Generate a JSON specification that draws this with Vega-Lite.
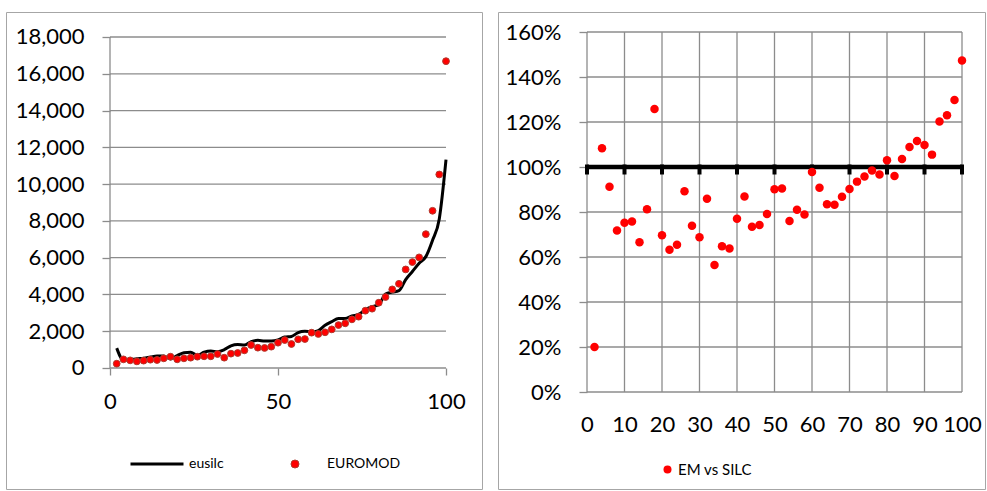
{
  "$schema": "https://vega.github.io/schema/vega-lite/v6.json",
  "background": "white",
  "padding": {"left": 5, "top": 11, "right": 0, "bottom": 0},
  "spacing": 14,
  "resolve": {"scale": {"fill": "independent", "stroke": "independent"}, "legend": {"fill": "independent", "stroke": "independent"}},
  "config": {
    "font": "Lato",
    "view": {"stroke": "#a6a6a6", "strokeWidth": 1},
    "axis": {
      "labelFont": "Lato", "labelFontSize": 22, "labelColor": "#000000",
      "tickColor": "#8c8c8c", "tickWidth": 1.3,
      "title": null, "labelOverlap": false, "labelFlush": false
    },
    "legend": {"labelFont": "Lato", "labelColor": "#000000", "title": null, "padding": 0}
  },
  "datasets": {
    "pct": [
      {"p": 2, "eusilc": 1080, "euromod": 235, "ratio": 0.20},
      {"p": 4, "eusilc": 434, "euromod": 470, "ratio": 1.083},
      {"p": 6, "eusilc": 455, "euromod": 415, "ratio": 0.912},
      {"p": 8, "eusilc": 501, "euromod": 360, "ratio": 0.718},
      {"p": 10, "eusilc": 532, "euromod": 400, "ratio": 0.752},
      {"p": 12, "eusilc": 594, "euromod": 450, "ratio": 0.758},
      {"p": 14, "eusilc": 653, "euromod": 435, "ratio": 0.666},
      {"p": 16, "eusilc": 647, "euromod": 525, "ratio": 0.812},
      {"p": 18, "eusilc": 489, "euromod": 615, "ratio": 1.258},
      {"p": 20, "eusilc": 674, "euromod": 470, "ratio": 0.697},
      {"p": 22, "eusilc": 831, "euromod": 525, "ratio": 0.632},
      {"p": 24, "eusilc": 856, "euromod": 560, "ratio": 0.654},
      {"p": 26, "eusilc": 689, "euromod": 615, "ratio": 0.892},
      {"p": 28, "eusilc": 859, "euromod": 635, "ratio": 0.739},
      {"p": 30, "eusilc": 923, "euromod": 635, "ratio": 0.688},
      {"p": 32, "eusilc": 885, "euromod": 760, "ratio": 0.859},
      {"p": 34, "eusilc": 993, "euromod": 560, "ratio": 0.564},
      {"p": 36, "eusilc": 1204, "euromod": 780, "ratio": 0.648},
      {"p": 38, "eusilc": 1277, "euromod": 815, "ratio": 0.638},
      {"p": 40, "eusilc": 1247, "euromod": 960, "ratio": 0.770},
      {"p": 42, "eusilc": 1438, "euromod": 1250, "ratio": 0.869},
      {"p": 44, "eusilc": 1505, "euromod": 1105, "ratio": 0.734},
      {"p": 46, "eusilc": 1469, "euromod": 1090, "ratio": 0.742},
      {"p": 48, "eusilc": 1466, "euromod": 1160, "ratio": 0.791},
      {"p": 50, "eusilc": 1526, "euromod": 1375, "ratio": 0.901},
      {"p": 52, "eusilc": 1681, "euromod": 1520, "ratio": 0.904},
      {"p": 54, "eusilc": 1717, "euromod": 1305, "ratio": 0.760},
      {"p": 56, "eusilc": 1926, "euromod": 1560, "ratio": 0.810},
      {"p": 58, "eusilc": 1996, "euromod": 1575, "ratio": 0.789},
      {"p": 60, "eusilc": 1963, "euromod": 1920, "ratio": 0.978},
      {"p": 62, "eusilc": 2037, "euromod": 1850, "ratio": 0.908},
      {"p": 64, "eusilc": 2326, "euromod": 1940, "ratio": 0.834},
      {"p": 66, "eusilc": 2524, "euromod": 2100, "ratio": 0.832},
      {"p": 68, "eusilc": 2690, "euromod": 2335, "ratio": 0.868},
      {"p": 70, "eusilc": 2694, "euromod": 2430, "ratio": 0.902},
      {"p": 72, "eusilc": 2829, "euromod": 2645, "ratio": 0.935},
      {"p": 74, "eusilc": 2912, "euromod": 2790, "ratio": 0.958},
      {"p": 76, "eusilc": 3166, "euromod": 3115, "ratio": 0.984},
      {"p": 78, "eusilc": 3335, "euromod": 3225, "ratio": 0.967},
      {"p": 80, "eusilc": 3447, "euromod": 3550, "ratio": 1.030},
      {"p": 82, "eusilc": 4021, "euromod": 3860, "ratio": 0.960},
      {"p": 84, "eusilc": 4126, "euromod": 4275, "ratio": 1.036},
      {"p": 86, "eusilc": 4206, "euromod": 4580, "ratio": 1.089},
      {"p": 88, "eusilc": 4803, "euromod": 5360, "ratio": 1.116},
      {"p": 90, "eusilc": 5246, "euromod": 5760, "ratio": 1.098},
      {"p": 92, "eusilc": 5701, "euromod": 6015, "ratio": 1.055},
      {"p": 94, "eusilc": 6057, "euromod": 7280, "ratio": 1.202},
      {"p": 96, "eusilc": 6951, "euromod": 8550, "ratio": 1.230},
      {"p": 98, "eusilc": 8109, "euromod": 10525, "ratio": 1.298},
      {"p": 100, "eusilc": 11327, "euromod": 16685, "ratio": 1.473}
    ],
    "gridLeft": [
      {"v": 0}, {"v": 2000}, {"v": 4000}, {"v": 6000}, {"v": 8000},
      {"v": 10000}, {"v": 12000}, {"v": 14000}, {"v": 16000}, {"v": 18000}
    ],
    "gridRightY": [
      {"level": 0}, {"level": 0.2}, {"level": 0.4}, {"level": 0.6}, {"level": 0.8},
      {"level": 1.0}, {"level": 1.2}, {"level": 1.4}, {"level": 1.6}
    ],
    "gridRightX": [
      {"p": 0}, {"p": 10}, {"p": 20}, {"p": 30}, {"p": 40}, {"p": 50},
      {"p": 60}, {"p": 70}, {"p": 80}, {"p": 90}, {"p": 100}
    ],
    "reftick": [
      {"p": 0, "level": 1}, {"p": 10, "level": 1}, {"p": 20, "level": 1}, {"p": 30, "level": 1},
      {"p": 40, "level": 1}, {"p": 50, "level": 1}, {"p": 60, "level": 1}, {"p": 70, "level": 1},
      {"p": 80, "level": 1}, {"p": 90, "level": 1}, {"p": 100, "level": 1}
    ]
  },
  "hconcat": [
    {
      "width": 476,
      "height": 477,
      "layer": [
        {
          "data": {"name": "gridLeft"},
          "mark": {"type": "rule", "color": "#8c8c8c", "strokeWidth": 1.3},
          "encoding": {
            "x": {
              "datum": 0, "type": "quantitative",
              "scale": {"domain": [-30.952, 110.714], "nice": false, "zero": false},
              "axis": {"values": [0, 50, 100], "grid": false, "domain": false, "tickSize": 7, "labelPadding": 16, "offset": -121}
            },
            "x2": {"datum": 100},
            "y": {
              "field": "v", "type": "quantitative",
              "scale": {"domain": [-6580.1, 19359.5], "nice": false, "zero": false},
              "axis": {
                "values": [0, 2000, 4000, 6000, 8000, 10000, 12000, 14000, 16000, 18000],
                "format": ",.0f", "grid": false, "domain": false, "tickSize": 8, "labelPadding": 18, "offset": -104
              }
            }
          }
        },
        {
          "data": {"name": "gridLeft"},
          "transform": [{"filter": "datum.v == 0"}],
          "mark": {"type": "rule", "color": "#8c8c8c", "strokeWidth": 1.3},
          "encoding": {
            "x": {
              "datum": 0, "type": "quantitative",
              "axis": {"values": [0, 50, 100], "grid": false, "domain": false, "tickSize": 7, "labelPadding": 16, "offset": -121}
            },
            "y": {
              "field": "v", "type": "quantitative",
              "axis": {
                "values": [0, 2000, 4000, 6000, 8000, 10000, 12000, 14000, 16000, 18000],
                "format": ",.0f", "grid": false, "domain": false, "tickSize": 8, "labelPadding": 18, "offset": -104
              }
            },
            "y2": {"datum": 18000}
          }
        },
        {
          "data": {"name": "pct"},
          "mark": {"type": "line", "interpolate": "monotone", "strokeWidth": 3},
          "encoding": {
            "x": {
              "field": "p", "type": "quantitative",
              "axis": {"values": [0, 50, 100], "grid": false, "domain": false, "tickSize": 7, "labelPadding": 16, "offset": -121}
            },
            "y": {
              "field": "eusilc", "type": "quantitative",
              "axis": {
                "values": [0, 2000, 4000, 6000, 8000, 10000, 12000, 14000, 16000, 18000],
                "format": ",.0f", "grid": false, "domain": false, "tickSize": 8, "labelPadding": 18, "offset": -104
              }
            },
            "stroke": {
              "datum": "eusilc", "type": "nominal",
              "scale": {"range": ["#000000"]},
              "legend": {
                "orient": "none", "legendX": 123, "legendY": 424,
                "symbolType": "stroke", "symbolSize": 2809, "symbolStrokeWidth": 3,
                "symbolStrokeColor": "#000000",
                "labelFontSize": 14, "labelOffset": 4
              }
            }
          }
        },
        {
          "data": {"name": "pct"},
          "mark": {"type": "circle", "size": 46, "stroke": "#b03a2e", "strokeWidth": 1, "opacity": 1},
          "encoding": {
            "x": {
              "field": "p", "type": "quantitative",
              "axis": {"values": [0, 50, 100], "grid": false, "domain": false, "tickSize": 7, "labelPadding": 16, "offset": -121}
            },
            "y": {
              "field": "euromod", "type": "quantitative",
              "axis": {
                "values": [0, 2000, 4000, 6000, 8000, 10000, 12000, 14000, 16000, 18000],
                "format": ",.0f", "grid": false, "domain": false, "tickSize": 8, "labelPadding": 18, "offset": -104
              }
            },
            "fill": {
              "datum": "EUROMOD", "type": "nominal",
              "scale": {"range": ["#ff0000"]},
              "legend": {
                "orient": "none", "legendX": 282, "legendY": 445,
                "symbolType": "circle", "symbolSize": 64, "symbolStrokeColor": "#b03a2e", "symbolStrokeWidth": 1,
                "labelFontSize": 14, "labelOffset": 25
              }
            }
          }
        }
      ]
    },
    {
      "width": 487,
      "height": 477,
      "layer": [
        {
          "data": {"name": "gridRightY"},
          "mark": {"type": "rule", "color": "#8c8c8c", "strokeWidth": 1.3},
          "encoding": {
            "x": {
              "datum": 0, "type": "quantitative",
              "scale": {"domain": [-23.733, 106.133], "nice": false, "zero": false},
              "axis": {"values": [0, 10, 20, 30, 40, 50, 60, 70, 80, 90, 100], "grid": false, "domain": false, "tickSize": 0, "labelPadding": 22, "offset": -97}
            },
            "x2": {"datum": 100},
            "y": {
              "field": "level", "type": "quantitative",
              "scale": {"domain": [-0.43111, 1.68889], "nice": false, "zero": false},
              "axis": {
                "values": [0, 0.2, 0.4, 0.6, 0.8, 1.0, 1.2, 1.4, 1.6],
                "format": ".0%", "grid": false, "domain": false, "tickSize": 8, "labelPadding": 18, "offset": -89
              }
            }
          }
        },
        {
          "data": {"name": "gridRightX"},
          "mark": {"type": "rule", "color": "#8c8c8c", "strokeWidth": 1.3},
          "encoding": {
            "x": {
              "field": "p", "type": "quantitative",
              "axis": {"values": [0, 10, 20, 30, 40, 50, 60, 70, 80, 90, 100], "grid": false, "domain": false, "tickSize": 0, "labelPadding": 22, "offset": -97}
            },
            "y": {
              "datum": 0, "type": "quantitative",
              "axis": {
                "values": [0, 0.2, 0.4, 0.6, 0.8, 1.0, 1.2, 1.4, 1.6],
                "format": ".0%", "grid": false, "domain": false, "tickSize": 8, "labelPadding": 18, "offset": -89
              }
            },
            "y2": {"datum": 1.6}
          }
        },
        {
          "data": {"name": "gridRightY"},
          "transform": [{"filter": "datum.level == 1"}],
          "mark": {"type": "rule", "color": "#000000", "strokeWidth": 4.5},
          "encoding": {
            "x": {
              "datum": 0, "type": "quantitative",
              "axis": {"values": [0, 10, 20, 30, 40, 50, 60, 70, 80, 90, 100], "grid": false, "domain": false, "tickSize": 0, "labelPadding": 22, "offset": -97}
            },
            "x2": {"datum": 100},
            "y": {
              "field": "level", "type": "quantitative",
              "axis": {
                "values": [0, 0.2, 0.4, 0.6, 0.8, 1.0, 1.2, 1.4, 1.6],
                "format": ".0%", "grid": false, "domain": false, "tickSize": 8, "labelPadding": 18, "offset": -89
              }
            }
          }
        },
        {
          "data": {"name": "reftick"},
          "mark": {"type": "tick", "orient": "vertical", "color": "#000000", "size": 10, "thickness": 4, "yOffset": 2.5, "opacity": 1},
          "encoding": {
            "x": {
              "field": "p", "type": "quantitative",
              "axis": {"values": [0, 10, 20, 30, 40, 50, 60, 70, 80, 90, 100], "grid": false, "domain": false, "tickSize": 0, "labelPadding": 22, "offset": -97}
            },
            "y": {
              "field": "level", "type": "quantitative",
              "axis": {
                "values": [0, 0.2, 0.4, 0.6, 0.8, 1.0, 1.2, 1.4, 1.6],
                "format": ".0%", "grid": false, "domain": false, "tickSize": 8, "labelPadding": 18, "offset": -89
              }
            }
          }
        },
        {
          "data": {"name": "pct"},
          "mark": {"type": "circle", "size": 72, "opacity": 1},
          "encoding": {
            "x": {
              "field": "p", "type": "quantitative",
              "axis": {"values": [0, 10, 20, 30, 40, 50, 60, 70, 80, 90, 100], "grid": false, "domain": false, "tickSize": 0, "labelPadding": 22, "offset": -97}
            },
            "y": {
              "field": "ratio", "type": "quantitative",
              "axis": {
                "values": [0, 0.2, 0.4, 0.6, 0.8, 1.0, 1.2, 1.4, 1.6],
                "format": ".0%", "grid": false, "domain": false, "tickSize": 8, "labelPadding": 18, "offset": -89
              }
            },
            "fill": {
              "datum": "EM vs SILC", "type": "nominal",
              "scale": {"range": ["#ff0000"]},
              "legend": {
                "orient": "none", "legendX": 162, "legendY": 450,
                "symbolType": "circle", "symbolSize": 64, "symbolStrokeWidth": 0,
                "labelFontSize": 15, "labelOffset": 3
              }
            }
          }
        }
      ]
    }
  ]
}
